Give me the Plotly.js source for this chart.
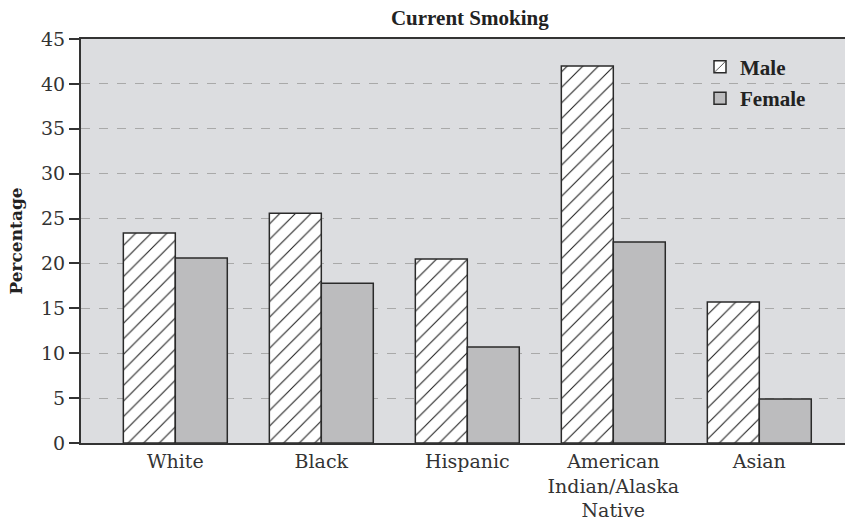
<!DOCTYPE html>
<html>
<head>
<meta charset="utf-8">
<script src="https://cdn.plot.ly/plotly-3.0.1.min.js"></script>
<style>html,body{margin:0;padding:0;background:#fff;}#chart{width:845px;height:522px;}</style>
</head>
<body>
<div id="chart"></div>
<script>
const categories = ['White', 'Black', 'Hispanic', 'American<br>Indian/Alaska<br>Native', 'Asian'];
const maleValues = [23.4, 25.6, 20.5, 42.0, 15.7];
const femaleValues = [20.6, 17.8, 10.7, 22.4, 4.9];
const yTicks = [0, 5, 10, 15, 20, 25, 30, 35, 40, 45];
const boundaryTicks = [1, 2, 3, 4];

const serif = 'DejaVu Serif';
const traces = [
  {
    type: 'bar', name: 'Male', x: categories, y: maleValues,
    legendgroup: 'm',
    marker: {
      color: '#ffffff',
      line: {color: '#2a2a2a', width: 1.5},
      pattern: {shape: '/', fgcolor: '#222222', bgcolor: '#ffffff', size: 11, solidity: 0.1}
    },
    hoverinfo: 'skip'
  },
  {
    type: 'bar', name: 'Female', x: categories, y: femaleValues,
    legendgroup: 'f',
    marker: {color: '#bcbcbe', line: {color: '#2a2a2a', width: 1.5}},
    hoverinfo: 'skip'
  }
];

const layout = {
  width: 845, height: 522,
  margin: {l: 81, r: 0, t: 39, b: 79},
  paper_bgcolor: '#ffffff',
  plot_bgcolor: '#dcdde0',
  barmode: 'group',
  bargap: 0.288,
  bargroupgap: 0,
  title: {
    text: '<b>Current Smoking</b>',
    font: {family: 'Liberation Serif', size: 21, color: '#222'},
    x: 0.556, xanchor: 'center', y: 0.966, yanchor: 'middle'
  },
  xaxis: {
    type: 'category',
    range: [-0.646, 4.587],
    showline: true, linecolor: '#333', linewidth: 2, mirror: true,
    ticks: '', showgrid: false,
    tickfont: {family: serif, size: 19, color: '#333'},
    ticklabelstandoff: 0,
    fixedrange: true
  },
  xaxis2: {
    overlaying: 'x', anchor: 'y', side: 'bottom',
    range: [0, 764 / 154],
    tickmode: 'array', tickvals: boundaryTicks, ticktext: ['', '', '', ''],
    ticks: 'outside', ticklen: 10, tickwidth: 2, tickcolor: '#333',
    showgrid: false, zeroline: false, showline: false, showticklabels: false
  },
  yaxis: {
    range: [0, 45],
    tickmode: 'array', tickvals: yTicks,
    ticks: 'outside', ticklen: 10, tickwidth: 2, tickcolor: '#333',
    showline: true, linecolor: '#333', linewidth: 2,
    showgrid: true, gridcolor: '#a9a9a9', griddash: 'dash', gridwidth: 1,
    zeroline: false,
    tickfont: {family: serif, size: 19, color: '#333'},
    title: {text: '<b>Percentage</b>', font: {family: serif, size: 17, color: '#222'}, standoff: 14},
    automargin: false
  },
  showlegend: true,
  legend: {
    x: (700 - 81) / 764, y: 0.981, xanchor: 'left', yanchor: 'top',
    bgcolor: 'rgba(0,0,0,0)',
    font: {family: 'Liberation Serif', size: 21, color: '#222', weight: 'bold'},
    traceorder: 'grouped', tracegroupgap: 1,
    itemwidth: 30
  }
};

Plotly.newPlot('chart', traces, layout, {staticPlot: true, displayModeBar: false});
</script>
</body>
</html>
